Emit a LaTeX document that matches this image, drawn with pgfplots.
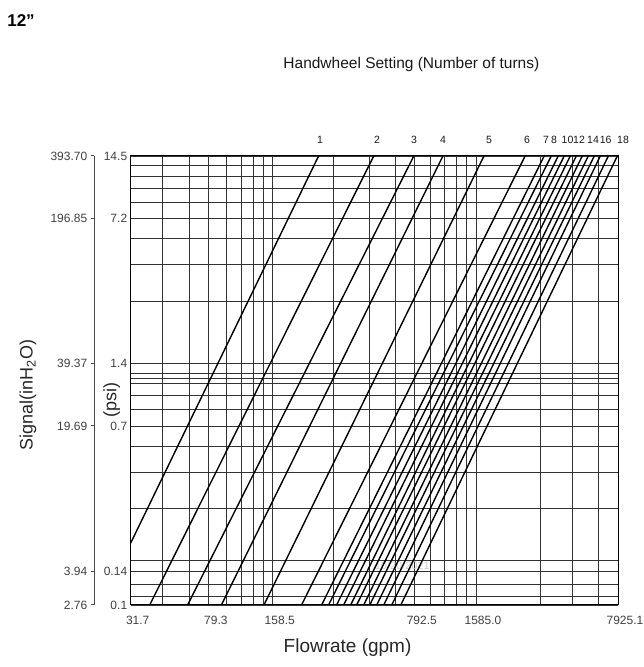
\documentclass[border=0pt]{standalone}
\usepackage{fontspec}
\setmainfont{Liberation Sans}
\usepackage{pgfplots}
\pgfplotsset{compat=1.18}
\pgfplotsset{turn/.style={black, solid, line width=1.4bp, mark=none}}
\begin{document}
\begin{tikzpicture}
% ---------------- main chart ----------------
\begin{axis}[
  at={(0,0)}, anchor=south west,
  scale only axis, width=487.3bp, height=449bp,
  xmode=log, ymode=log,
  xmin=2, xmax=500, ymin=6.86, ymax=1000,
  xtick={2,4.85,10,50,100,500},
  xticklabels={31.7,79.3,158.5,792.5,1585.0,7925.1},
  minor xtick={2.85,3.9,5.95,7,8,9,20,30,40,60,70,80,90,207,300,400},
  ytick={6.86,10,50,100,500,1000},
  yticklabels={0.1,0.14,0.7,1.4,7.2,14.5},
  minor ytick={7.58,8.66,11.3,20,30,40,60,70,80,85,90,200,300,400,600,700,800,900},
  grid=both,
  major grid style={black!80, line width=0.9bp},
  minor grid style={black!80, line width=0.9bp},
  major tick length=0pt, minor tick length=0pt,
  axis line style={black, line width=1bp},
  tick label style={font=\fontsize{12bp}{14bp}\selectfont, text=black!75},
  xticklabel style={xshift=7bp, yshift=-8bp},
  xlabel={Flowrate (gpm)},
  xlabel style={at={(axis description cs:0.445,0)}, anchor=center, yshift=-43bp,
    font=\fontsize{19bp}{22bp}\selectfont, text=black!85},
  ylabel={(psi)},
  ylabel style={at={(axis description cs:-0.039,0.4566)}, anchor=center,
    font=\fontsize{18bp}{21bp}\selectfont, text=black!85},
  every axis title shift=0pt,
  title={Handwheel Setting (Number of turns)},
  title style={at={(axis description cs:0.576,1.2027)}, anchor=center,
    font=\fontsize{15.5bp}{18bp}\selectfont, text=black!90},
]
\node[text=black!20, font=\fontsize{11bp}{13bp}\selectfont] at (axis cs:43.4,10.57) {10/20/2021};
% turns 1..6
\addplot[turn] coordinates {(2,13.64) (16.81,1000)};
\addplot[turn] coordinates {(2.48,6.86) (31.40,1000)};
\addplot[turn] coordinates {(3.81,6.86) (49.46,1000)};
\addplot[turn] coordinates {(5.59,6.86) (68.78,1000)};
\addplot[turn] coordinates {(9.05,6.86) (109.5,1000)};
\addplot[turn] coordinates {(13.86,6.86) (174.5,1000)};
% turns 7..18
\addplot[turn] coordinates {(17.40,6.86) (216.6,1000)};
\addplot[turn] coordinates {(18.83,6.86) (234.6,1000)};
\addplot[turn] coordinates {(20.62,6.86) (253.9,1000)};
\addplot[turn] coordinates {(22.33,6.86) (271.8,1000)};
\addplot[turn] coordinates {(24.18,6.86) (291.1,1000)};
\addplot[turn] coordinates {(25.88,6.86) (311.7,1000)};
\addplot[turn] coordinates {(28.03,6.86) (333.4,1000)};
\addplot[turn] coordinates {(30.02,6.86) (357.0,1000)};
\addplot[turn] coordinates {(32.49,6.86) (382.2,1000)};
\addplot[turn] coordinates {(35.18,6.86) (409.2,1000)};
\addplot[turn] coordinates {(38.52,6.86) (448.1,1000)};
\addplot[turn] coordinates {(42.68,6.86) (496.2,1000)};
\end{axis}
% ---------------- inH2O scale ----------------
\begin{axis}[
  at={(-36.4bp,0)}, anchor=south west,
  scale only axis, width=2bp, height=449bp,
  ymode=log, ymin=6.86, ymax=1000, xmin=0, xmax=1,
  axis x line=none, axis y line=left,
  y axis line style={-, black!70, line width=1bp},
  ytick={6.86,10,50,100,500,1000},
  yticklabels={2.76,3.94,19.69,39.37,196.85,393.70},
  tick align=outside, major tick length=3.5bp,
  ytick style={black!70, line width=1bp},
  yticklabel style={font=\fontsize{12bp}{14bp}\selectfont, text=black!75},
  ylabel={Signal(inH\textsubscript{2}O)},
  ylabel style={at={(axis description cs:-33.15,0.4677)}, anchor=center,
    font=\fontsize{18bp}{21bp}\selectfont, text=black!85},
]
\end{axis}
% ---------------- handwheel turn labels ----------------
\begin{axis}[
  at={(0,0)}, anchor=south west,
  scale only axis, width=513.3bp, height=449bp,
  xmin=130.7, xmax=644, ymin=0, ymax=1,
  axis x line=top, axis y line=none,
  x axis line style={draw=none},
  xtick={320,377,414,443,489,527,546,554,567.5,579,593,605.6,623},
  xticklabels={1,2,3,4,5,6,7,8,10,12,14,16,18},
  major tick length=0pt,
  xticklabel style={font=\fontsize{10.5bp}{12bp}\selectfont, yshift=9bp, text=black!90},
  every axis title shift=0pt,
  title={\bfseries 12”},
  title style={at={(axis description cs:-0.2137,1.3007)}, anchor=center,
    font=\fontsize{17bp}{20bp}\selectfont},
]
\end{axis}
\pgfresetboundingbox
\path[use as bounding box] (-130.7bp,-62bp) rectangle (513.3bp,605bp);
\end{tikzpicture}
\end{document}
